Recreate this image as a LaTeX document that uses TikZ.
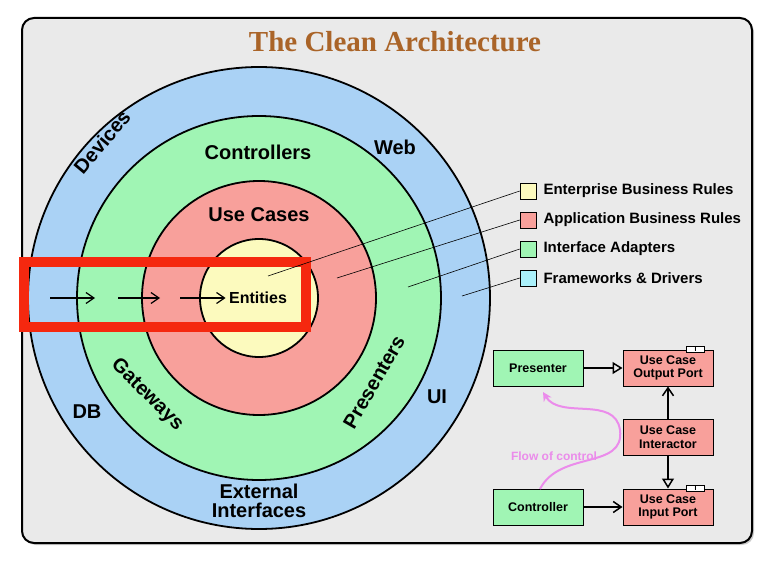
\documentclass[tikz,border=0pt]{standalone}
\usepackage{fontspec}
\setmainfont{Liberation Sans}
\newfontfamily\titlefont{Liberation Serif}
\usetikzlibrary{arrows.meta,shadows}
\definecolor{bl}{RGB}{170,210,245}
\definecolor{gr}{RGB}{160,245,180}
\definecolor{rd}{RGB}{248,160,155}
\definecolor{yl}{RGB}{252,250,190}
\definecolor{cy}{RGB}{170,240,250}
\definecolor{bg}{RGB}{234,234,234}
\definecolor{ttl}{RGB}{170,100,40}
\definecolor{pk}{RGB}{235,140,235}
\definecolor{hl}{RGB}{245,40,15}
\begin{document}
\begin{tikzpicture}[x=1pt,y=-1pt,
  ring/.style={draw=black,line width=1.8pt},
  lab/.style={font=\bfseries\fontsize{20}{20}\selectfont},
  leg/.style={draw=black,line width=0.6pt,minimum size=16pt,inner sep=0pt},
  legt/.style={anchor=west,font=\bfseries\fontsize{15}{16}\selectfont},
  box/.style={draw=black,line width=1pt,minimum width=90pt,minimum height=36pt,align=center,font=\bfseries\fontsize{12.5}{13.5}\selectfont,inner sep=1pt},
  ar/.style={-{Straight Barb[length=8pt,width=11pt]},line width=1.5pt},
  oar/.style={-{Triangle[open,length=10pt,width=12pt]},line width=1.5pt}]
\useasboundingbox (0,0) rectangle (772,567);
\draw[fill=bg,line width=2pt,rounded corners=12pt,drop shadow={shadow xshift=2pt,shadow yshift=-2pt,opacity=0.4}] (22,18) rectangle (752,543);
\node (title) at (395,42) {\titlefont\bfseries\fontsize{29}{29}\selectfont\color{ttl}The Clean Architecture};
\coordinate (c) at (259,298);
\fill[bl] (c) circle (231);
\draw[ring] (c) circle (231);
\draw[ring,fill=gr] (c) circle (182);
\draw[ring,fill=rd] (c) circle (117);
\draw[ring,fill=yl] (c) circle (59);
\node[lab] (ctrl) at (258,152) {Controllers};
\node[lab] (web) at (395,147) {Web};
\node[lab,rotate=50] (dev) at (102,142) {Devices};
\node[lab] (uc) at (259,215) {Use Cases};
\node[lab,rotate=-45] (gw) at (147,395) {Gateways};
\node[lab,rotate=60] (pres) at (374,382) {Presenters};
\node[lab] (db) at (87,412) {DB};
\node[lab] (ui) at (437,397) {UI};
\node[lab,align=center] (ext) at (259,501) {External\\[-1pt]Interfaces};
\node[font=\bfseries\fontsize{16}{16}\selectfont] (ent) at (258,298) {Entities};
\coordinate (a1) at (50,298); \coordinate (a2) at (95,298);
\coordinate (a3) at (118,298); \coordinate (a4) at (160,298);
\coordinate (a5) at (180,298);
\draw[ar,line width=1.2pt] (a1) -- (a2);
\draw[ar,line width=1.2pt] (a3) -- (a4);
\draw[ar,line width=1.2pt] (a5) -- (ent.west);
\draw[hl,line width=10pt] (24,262) rectangle (306,327);
% legend
\node[leg,fill=yl] (l1) at (528,191) {};
\node[leg,fill=rd] (l2) at (528,220) {};
\node[leg,fill=gr] (l3) at (528,249) {};
\node[leg,fill=cy] (l4) at (528,278) {};
\node[legt] at (540,191) {Enterprise Business Rules};
\node[legt] at (540,220) {Application Business Rules};
\node[legt] at (540,249) {Interface Adapters};
\node[legt] at (540,278) {Frameworks \& Drivers};
\coordinate (p1) at (268,276); \coordinate (p2) at (337,278);
\coordinate (p3) at (408,287); \coordinate (p4) at (462,296);
\draw[line width=0.6pt] (p1) -- (l1.west);
\draw[line width=0.6pt] (p2) -- (l2.west);
\draw[line width=0.6pt] (p3) -- (l3.west);
\draw[line width=0.6pt] (p4) -- (l4.west);
% flow diagram
\node[box,fill=gr] (pr) at (538,368) {Presenter};
\node[box,fill=rd] (op) at (668,368) {Use Case\\Output Port};
\node[box,fill=rd] (it) at (668,437) {Use Case\\Interactor};
\node[box,fill=gr] (co) at (538,507) {Controller};
\node[box,fill=rd] (ip) at (668,507) {Use Case\\Input Port};
\foreach \n in {op,ip}{
  \node[draw=black,fill=white,line width=0.5pt,inner sep=0.5pt,minimum width=18pt,font=\bfseries\fontsize{7}{7}\selectfont] at ([xshift=-18pt]\n.north east) {I};}
\draw[oar] (pr) -- (op);
\draw[ar] (it) -- (op);
\draw[oar] (it) -- (ip);
\draw[ar] (co) -- (ip);
\coordinate (f1) at (540,489); \coordinate (f2) at (543,392);
\draw[pk,line width=2pt,-{Stealth[length=9pt,width=9pt]}] (f1) .. controls (560,450) and (625,470) .. (620,430) .. controls (615,395) and (560,420) .. (f2);
\node[text=pk,font=\bfseries\fontsize{12}{12}\selectfont] (flow) at (554,456) {Flow of control};
\end{tikzpicture}
\end{document}
